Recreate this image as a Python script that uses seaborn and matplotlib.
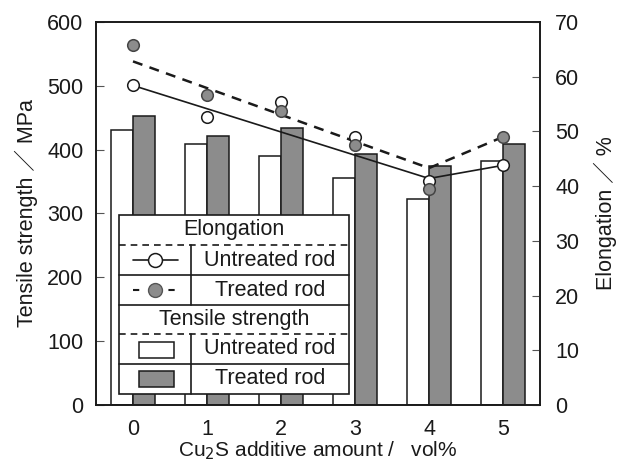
import numpy as np
import pandas as pd
import matplotlib
matplotlib.use("Agg")
import matplotlib.pyplot as plt
import seaborn as sns
from matplotlib.patches import Rectangle
from matplotlib.lines import Line2D

# ---- data ----
amounts = [0, 1, 2, 3, 4, 5]
tensile_untreated = [431, 409, 390, 356, 323, 383]
tensile_treated = [453, 422, 434, 393, 375, 409]
elong_untreated = [58.4, 52.7, 55.3, 49.0, 41.0, 43.8]
elong_treated = [65.8, 56.7, 53.7, 47.5, 39.4, 49.0]
trend_x = [0, 4, 5]
trend_untreated = [58.4, 41.4, 43.8]
trend_treated = [62.8, 43.3, 49.0]
rod_labels = ["Untreated rod", "Treated rod"]

sns.set_theme(style="white")
plt.rcParams['font.family'] = ['Liberation Sans', 'Noto Sans CJK JP', 'DejaVu Sans']
FS = 15.5
GRAY = '#8c8c8c'
INK = '#1a1a1a'

df = pd.DataFrame({
    "amount": amounts * 2,
    "tensile": tensile_untreated + tensile_treated,
    "rod": [rod_labels[0]] * 6 + [rod_labels[1]] * 6,
})

fig = plt.figure(figsize=(6.27, 4.63), dpi=100)
ax = fig.add_axes([96/627, 58/463, 444/627, 383/463])
sns.barplot(data=df, x="amount", y="tensile", hue="rod", hue_order=rod_labels,
            palette=["white", GRAY], edgecolor=INK, linewidth=1.1, width=0.6,
            gap=0, legend=False, ax=ax, errorbar=None)
ax.set_xlim(-0.5, 5.5)
ax.set_ylim(0, 600)
ax.set_yticks([0, 100, 200, 300, 400, 500, 600])
ax.tick_params(axis='y', direction='in', length=6, width=0.8, color='#555555',
               labelsize=FS, pad=9, labelcolor=INK)
ax.tick_params(axis='x', length=0, labelsize=FS, pad=10, labelcolor=INK)
ax.set_xlabel("Cu$_2$S additive amount /   vol%", fontsize=15, color=INK, labelpad=0)
ax.set_ylabel("Tensile strength ／ MPa", fontsize=FS, color=INK, labelpad=7)
for s in ax.spines.values():
    s.set_linewidth(1.2)
    s.set_color(INK)

ax2 = ax.twinx()
ax2.set_ylim(0, 70)
ax2.set_yticks([0, 10, 20, 30, 40, 50, 60, 70])
ax2.tick_params(axis='y', direction='in', length=6, width=0.8, color='#555555',
                labelsize=FS, pad=11, labelcolor=INK)
ax2.set_ylabel("Elongation ／ %", fontsize=FS, color=INK, labelpad=10)
for s in ax2.spines.values():
    s.set_linewidth(1.2)
    s.set_color(INK)

sns.lineplot(x=trend_x, y=trend_untreated, ax=ax2, color=INK, linewidth=1.2, zorder=3)
sns.lineplot(x=trend_x, y=trend_treated, ax=ax2, color=INK, linewidth=1.8,
             linestyle=(0, (4, 3)), zorder=3)
sns.scatterplot(x=amounts, y=elong_untreated, ax=ax2, color='white', edgecolor=INK,
                s=70, linewidth=1.1, zorder=4)
sns.scatterplot(x=amounts, y=elong_treated, ax=ax2, color=GRAY, edgecolor='#444444',
                s=70, linewidth=1.1, zorder=4)

# ---- table-style legend (pixel layout converted to axes fraction) ----
def fx(px):
    return (px - 96) / 444
def fy(py):
    return (405 - py) / 383

L, R, T, B = 119, 349, 215, 394
DIV = 191
tr = ax2.transAxes
ax2.add_patch(Rectangle((fx(L), fy(B)), fx(R) - fx(L), fy(T) - fy(B), transform=tr,
                        facecolor='white', edgecolor=INK, linewidth=1.2, zorder=10,
                        clip_on=False))
kw = dict(transform=tr, zorder=11, clip_on=False)
for y, dashed in [(245, True), (275, False), (305, False), (334, True), (364, False)]:
    ax2.add_line(Line2D([fx(L), fx(R)], [fy(y), fy(y)], color=INK, linewidth=1.2,
                        linestyle=(0, (4, 3)) if dashed else '-', **kw))
for y0, y1 in [(245, 305), (334, 394)]:
    ax2.add_line(Line2D([fx(DIV), fx(DIV)], [fy(y0), fy(y1)], color=INK, linewidth=1.2, **kw))
cx_right = (DIV + R) / 2
cx_all = (L + R) / 2
ax2.text(fx(cx_all), fy(230), "Elongation", ha='center', va='center', fontsize=FS, color=INK, **kw)
ax2.text(fx(cx_all), fy(320), "Tensile strength", ha='center', va='center', fontsize=FS, color=INK, **kw)
for ymid, lab in [(260, rod_labels[0]), (290, rod_labels[1]), (349, rod_labels[0]), (379, rod_labels[1])]:
    ax2.text(fx(cx_right), fy(ymid), lab, ha='center', va='center', fontsize=FS, color=INK, **kw)
ax2.add_line(Line2D([fx(133), fx(178)], [fy(260), fy(260)], color=INK, linewidth=1.2, **kw))
ax2.add_line(Line2D([fx(155)], [fy(260)], marker='o', markersize=10, markerfacecolor='white',
                    markeredgecolor=INK, markeredgewidth=1.1, linestyle='none', **kw))
ax2.add_line(Line2D([fx(133), fx(178)], [fy(290), fy(290)], color=INK, linewidth=1.5,
                    linestyle=(0, (3, 5.5)), **kw))
ax2.add_line(Line2D([fx(155)], [fy(290)], marker='o', markersize=10, markerfacecolor=GRAY,
                    markeredgecolor='#555555', markeredgewidth=1.0, linestyle='none', **kw))
for ymid, col in [(350, 'white'), (379, GRAY)]:
    ax2.add_patch(Rectangle((fx(139), fy(ymid + 8)), fx(174) - fx(139), fy(ymid - 8) - fy(ymid + 8),
                            facecolor=col, edgecolor=INK, linewidth=1.1, **kw))

fig.savefig("out.png", dpi=100)
